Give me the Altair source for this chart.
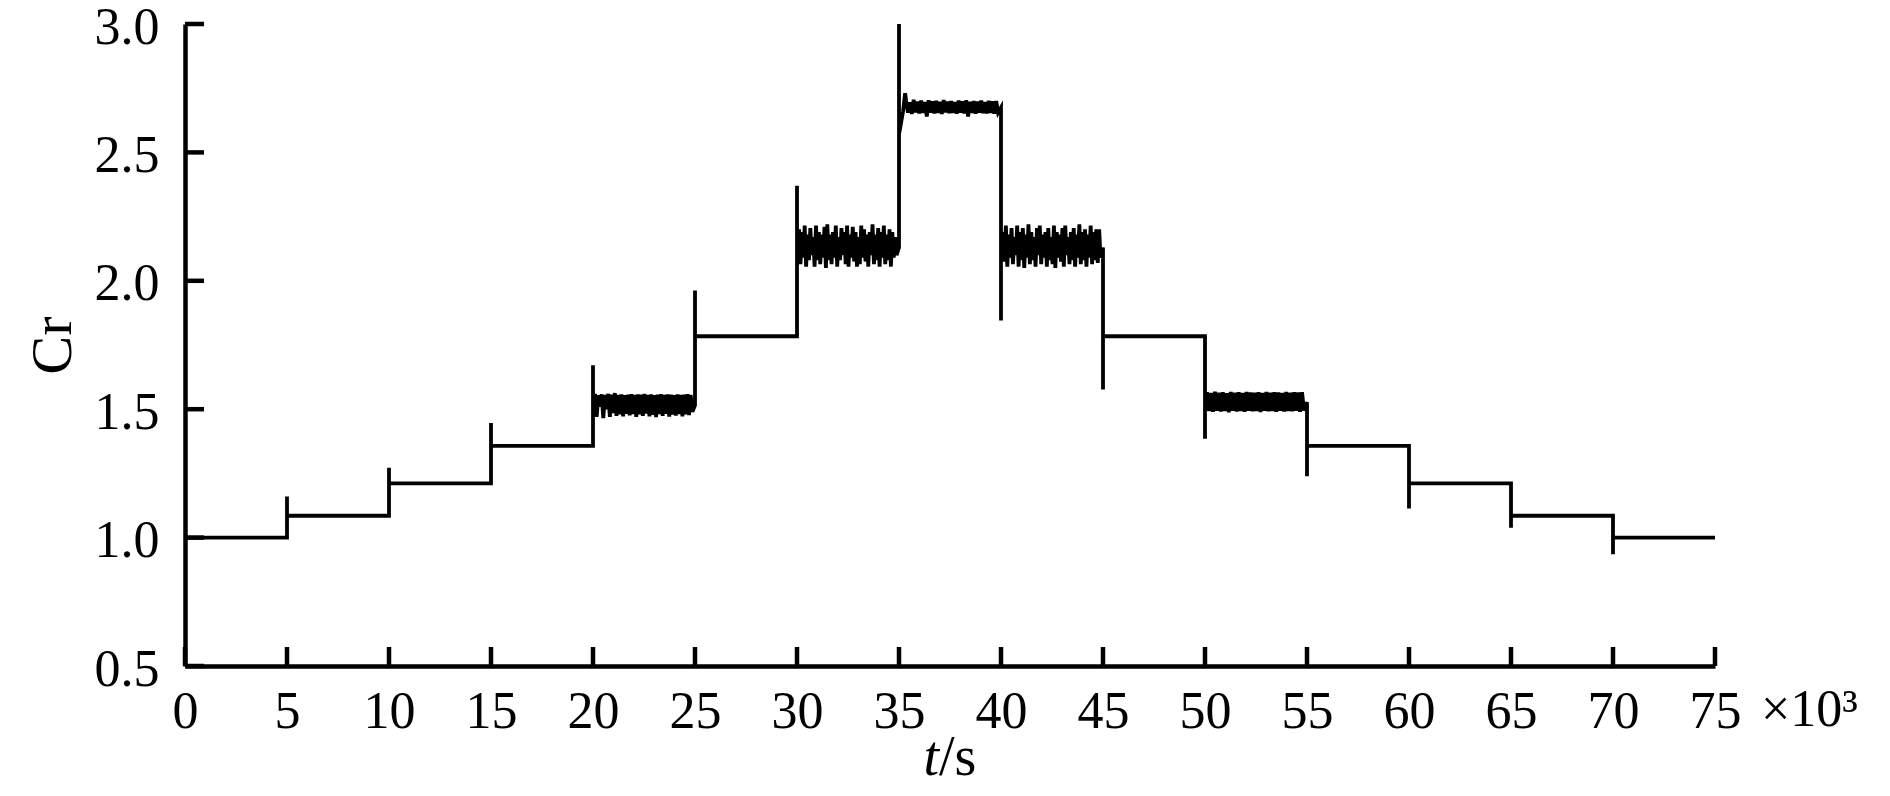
import altair as alt

# ---- data ----
boundaries = [0, 5, 10, 15, 20, 25, 30, 35, 40, 45, 50, 55, 60, 65, 70, 75]   # t in 10^3 s
levels = [1.00, 1.085, 1.211, 1.357, 1.515, 1.784, 2.13, 2.675, 2.13, 1.784,
          1.527, 1.357, 1.211, 1.085, 1.00]
spikes = [1.12, 1.16, 1.272, 1.446, 1.671, 1.962, 2.37, 3.0, 1.845, 1.577,
          1.385, 1.239, 1.113, 1.038, 0.935]
start_value = 0.88

A_upper = [1.56, 1.555, 1.558, 1.556, 1.56, 1.557, 1.563, 1.556, 1.558, 1.555, 1.557, 1.559, 1.556, 1.558, 1.557,
           1.56, 1.556, 1.558, 1.555, 1.557, 1.559, 1.556, 1.558, 1.557, 1.555, 1.558, 1.556, 1.557, 1.559, 1.556]
A_lower = [1.47, 1.51, 1.465, 1.50, 1.47, 1.485, 1.474, 1.48, 1.472, 1.482, 1.476, 1.481, 1.47, 1.48, 1.474,
           1.483, 1.472, 1.478, 1.469, 1.481, 1.474, 1.482, 1.471, 1.479, 1.475, 1.481, 1.472, 1.48, 1.477, 1.49]
B_upper = [2.20, 2.19, 2.215, 2.18, 2.205, 2.17, 2.215, 2.19, 2.18, 2.21, 2.22, 2.18, 2.19, 2.215, 2.17, 2.205, 2.19, 2.215,
           2.18, 2.21, 2.19, 2.17, 2.215, 2.20, 2.18, 2.19, 2.22, 2.18, 2.205, 2.19, 2.215, 2.18, 2.20, 2.19, 2.17]
B_lower = [2.065, 2.09, 2.055, 2.08, 2.10, 2.055, 2.08, 2.065, 2.09, 2.05, 2.08, 2.065, 2.09, 2.055, 2.08, 2.10, 2.065, 2.055,
           2.09, 2.075, 2.055, 2.065, 2.09, 2.075, 2.055, 2.10, 2.065, 2.08, 2.055, 2.09, 2.065, 2.08, 2.055, 2.09, 2.10]
C_settle_t = [35.0, 35.2, 35.3]
C_settle_v = [2.57, 2.66, 2.73]
C_upper = [2.70, 2.695, 2.705, 2.698, 2.702, 2.696, 2.703, 2.699, 2.701, 2.697, 2.704, 2.698, 2.70,
           2.696, 2.702, 2.699, 2.703, 2.697, 2.70, 2.698, 2.702, 2.696, 2.701, 2.699, 2.70]
C_lower = [2.655, 2.65, 2.656, 2.652, 2.654, 2.64, 2.655, 2.652, 2.654, 2.65, 2.656, 2.653, 2.654,
           2.651, 2.655, 2.652, 2.64, 2.654, 2.651, 2.655, 2.653, 2.652, 2.654, 2.651, 2.655]
D_upper = [2.19, 2.215, 2.18, 2.205, 2.17, 2.215, 2.19, 2.205, 2.18, 2.22, 2.19, 2.17, 2.205, 2.215, 2.18, 2.19, 2.205, 2.17,
           2.215, 2.19, 2.18, 2.205, 2.215, 2.17, 2.19, 2.205, 2.18, 2.22, 2.19, 2.20, 2.18, 2.215, 2.19, 2.20, 2.20]
D_lower = [2.075, 2.055, 2.09, 2.065, 2.10, 2.055, 2.08, 2.05, 2.09, 2.065, 2.08, 2.055, 2.10, 2.065, 2.09, 2.055, 2.08, 2.065,
           2.05, 2.09, 2.075, 2.055, 2.10, 2.065, 2.08, 2.055, 2.09, 2.065, 2.08, 2.055, 2.09, 2.065, 2.08, 2.07, 2.09]
E_upper = [1.566, 1.563, 1.568, 1.564, 1.566, 1.562, 1.567, 1.564, 1.566, 1.563, 1.567, 1.565, 1.564,
           1.566, 1.563, 1.567, 1.564, 1.566, 1.565, 1.563, 1.567, 1.564, 1.566, 1.565, 1.566]
E_lower = [1.493, 1.49, 1.494, 1.491, 1.493, 1.488, 1.494, 1.491, 1.493, 1.49, 1.494, 1.492, 1.493,
           1.489, 1.494, 1.492, 1.493, 1.49, 1.494, 1.491, 1.493, 1.492, 1.494, 1.49, 1.495]

noisy = {4: (A_upper, A_lower), 6: (B_upper, B_lower), 7: (C_upper, C_lower),
         8: (D_upper, D_lower), 10: (E_upper, E_lower)}
settle = {7: (C_settle_t, C_settle_v)}

x_ticks = [0, 5, 10, 15, 20, 25, 30, 35, 40, 45, 50, 55, 60, 65, 70, 75]
y_ticks = [0.5, 1.0, 1.5, 2.0, 2.5, 3.0]

# ---- build the line table ----
rows = []


def add(t, v):
    rows.append({"t": t, "cr": v, "i": len(rows)})


add(0, start_value)
for i, lev in enumerate(levels):
    t0, t1 = boundaries[i], boundaries[i + 1]
    add(t0, spikes[i])
    if i in settle:
        st, sv = settle[i]
        for tt, vv in zip(st, sv):
            add(tt, vv)
        z0 = st[-1] + 0.05
    else:
        add(t0, lev)
        z0 = t0 + 0.1
    if i in noisy:
        up, lo = noisy[i]
        n = len(up)
        span = (t1 - 0.05) - z0
        for k in range(n):
            add(z0 + span * (2 * k) / (2 * n), up[k])
            add(z0 + span * (2 * k + 1) / (2 * n), lo[k])
    add(t1, lev)

W, H = 1530, 642
FONT = "Liberation Serif"

xs = alt.Scale(domain=[0, 75], nice=False, zero=False)
ys = alt.Scale(domain=[0.5, 3.0], nice=False, zero=False)
x_axis = alt.Axis(values=x_ticks, format="d", title=None, ticks=False, grid=False,
                  domainColor="black", domainWidth=4.5, labelFont=FONT, labelFontSize=52,
                  labelColor="black", labelPadding=20, labelFlush=False, labelOverlap=False)
y_axis = alt.Axis(values=y_ticks, format=".1f", title="Cr", ticks=False, grid=False,
                  domainColor="black", domainWidth=4.5, labelFont=FONT, labelFontSize=52,
                  labelColor="black", labelPadding=26, labelOffset=3, labelFlush=False,
                  labelOverlap=False, titleFont=FONT, titleFontSize=58, titleFontWeight="normal",
                  titleColor="black", titlePadding=12)

line = alt.Chart(alt.Data(values=rows)).mark_line(
    color="black", strokeWidth=3.8, clip=True
).encode(
    x=alt.X("t:Q", scale=xs, axis=x_axis),
    y=alt.Y("cr:Q", scale=ys, axis=y_axis),
    order="i:Q",
)

xtick_layer = alt.Chart(alt.Data(values=[{"t": v} for v in x_ticks])).mark_rule(
    color="black", strokeWidth=4.5
).encode(
    x=alt.X("t:Q", scale=xs, axis=x_axis),
    y=alt.value(H),
    y2=alt.value(H - 19),
)

ytick_layer = alt.Chart(alt.Data(values=[{"v": v} for v in y_ticks])).mark_rule(
    color="black", strokeWidth=4.5
).encode(
    y=alt.Y("v:Q", scale=ys, axis=y_axis),
    x=alt.value(0),
    x2=alt.value(19),
)

t_label = alt.Chart(alt.Data(values=[{}])).mark_text(
    font=FONT, fontSize=56, fontStyle="italic", align="right", baseline="alphabetic", color="black"
).encode(x=alt.value(W / 2 - 11), y=alt.value(H + 109), text=alt.value("t"))

s_label = alt.Chart(alt.Data(values=[{}])).mark_text(
    font=FONT, fontSize=56, align="left", baseline="alphabetic", color="black"
).encode(x=alt.value(W / 2 - 11), y=alt.value(H + 109), text=alt.value("/s"))

mult_label = alt.Chart(alt.Data(values=[{}])).mark_text(
    font=FONT, fontSize=52, align="left", baseline="alphabetic", color="black"
).encode(x=alt.value(W + 46), y=alt.value(H + 60), text=alt.value("×10³"))

chart = alt.layer(line, xtick_layer, ytick_layer, t_label, s_label, mult_label).properties(
    width=W, height=H,
    padding={"left": 177, "top": 16, "right": 167, "bottom": 122},
    autosize=alt.AutoSizeParams(type="none"),
    background="white",
).configure_view(stroke=None)

chart.save("out.html", embed_options={"renderer": "svg", "actions": False})
